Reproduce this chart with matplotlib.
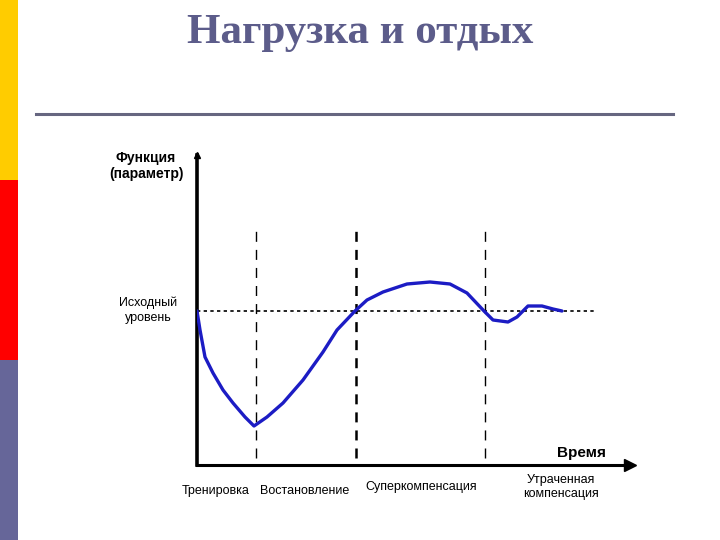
import matplotlib
matplotlib.use('Agg')
import matplotlib.pyplot as plt
from matplotlib.patches import Rectangle
from matplotlib.lines import Line2D

plt.rcParams['font.family'] = ['Liberation Sans', 'DejaVu Sans']

# curve: time (arb. units) vs function level (arb. units)
time_pts = [0, 0.3, 0.8, 1.6, 2.6, 3.6, 4.8, 5.7, 7.0, 8.6, 10.6, 12.6, 14.0,
            15.8, 17.0, 18.6, 21.0, 23.3, 25.3, 27.0, 28.7, 29.6, 31.1, 32.0,
            33.1, 34.5, 35.6, 36.5]
func_pts = [15.4, 13.5, 10.8, 9.2, 7.5, 6.2, 4.8, 3.9, 4.8, 6.2, 8.5, 11.3, 13.5,
            15.4, 16.5, 17.3, 18.1, 18.3, 18.1, 17.2, 15.4, 14.5, 14.3, 14.8,
            15.9, 15.9, 15.6, 15.4]
base_level = 15.4
phase_bounds = [5.9, 15.9, 28.8]
phase_widths = [1.0, 1.8, 1.0]
phase_names = ['Тренировка', 'Востановление', 'Суперкомпенсация',
               'Утраченная\nкомпенсация']

W, H = 720, 540
fig = plt.figure(figsize=(7.2, 5.4), dpi=100)

def fx(x):
    return x / W

def fy(y):
    return 1 - y / H

# side stripes and title rule
for y0, y1, c in [(0, 180, '#ffcc00'), (180, 360, '#ff0000'), (360, 540, '#666699')]:
    fig.add_artist(Rectangle((0, fy(y1)), fx(18), (y1 - y0) / H, color=c, lw=0))
fig.add_artist(Line2D([fx(36), fx(673)], [fy(113.5)] * 2, color='#666680', lw=2.2))
fig.text(fx(360), fy(43), 'Нагрузка и отдых', family='Liberation Serif',
         fontsize=31, weight='bold', color='#5c5c8a', ha='center', va='baseline')

# chart axes, origin at pixel (197, 465)
ax = fig.add_axes([fx(197), fy(465), fx(630 - 197), (465 - 155) / H])
ax.set_xlim(0, 43.3)
ax.set_ylim(0, 31)
ax.axis('off')

ax.plot([0, 0], [0, 31], color='black', lw=2.6, clip_on=False)
ax.plot([0, 43.3], [0, 0], color='black', lw=2.2, clip_on=False)
ax.plot(0, 31, marker='^', ms=4, color='black', clip_on=False)
ax.plot(43.3, 0, marker='>', ms=8, color='black', clip_on=False)

ax.plot([0, 40], [base_level] * 2, color='black', lw=1.2, ls=(0, (2, 2)))
for xb, w in zip(phase_bounds, phase_widths):
    ax.plot([xb, xb], [0.7, 24.0], color='black', lw=w,
            ls=(0, (7.2 / w, 5.8 / w)))

ax.plot(time_pts, func_pts, color='#1c1cc4', lw=2.4,
        solid_capstyle='round', solid_joinstyle='round')

# labels
fig.text(fx(146), fy(166), 'Функция\n(параметр)', fontsize=10, weight='bold',
         ha='center', va='center', linespacing=1.25)
fig.text(fx(148), fy(310), 'Исходный\nуровень', fontsize=9,
         ha='center', va='center', linespacing=1.35)
fig.text(fx(581), fy(453), 'Время', fontsize=11, weight='bold',
         ha='center', va='center')
label_pos = [(216, 491), (305, 491), (421, 487), (561, 487)]
for name, (x, y) in zip(phase_names, label_pos):
    fig.text(fx(x), fy(y), name, fontsize=9, ha='center', va='center',
             linespacing=1.3)

fig.savefig('out.png', dpi=100)
